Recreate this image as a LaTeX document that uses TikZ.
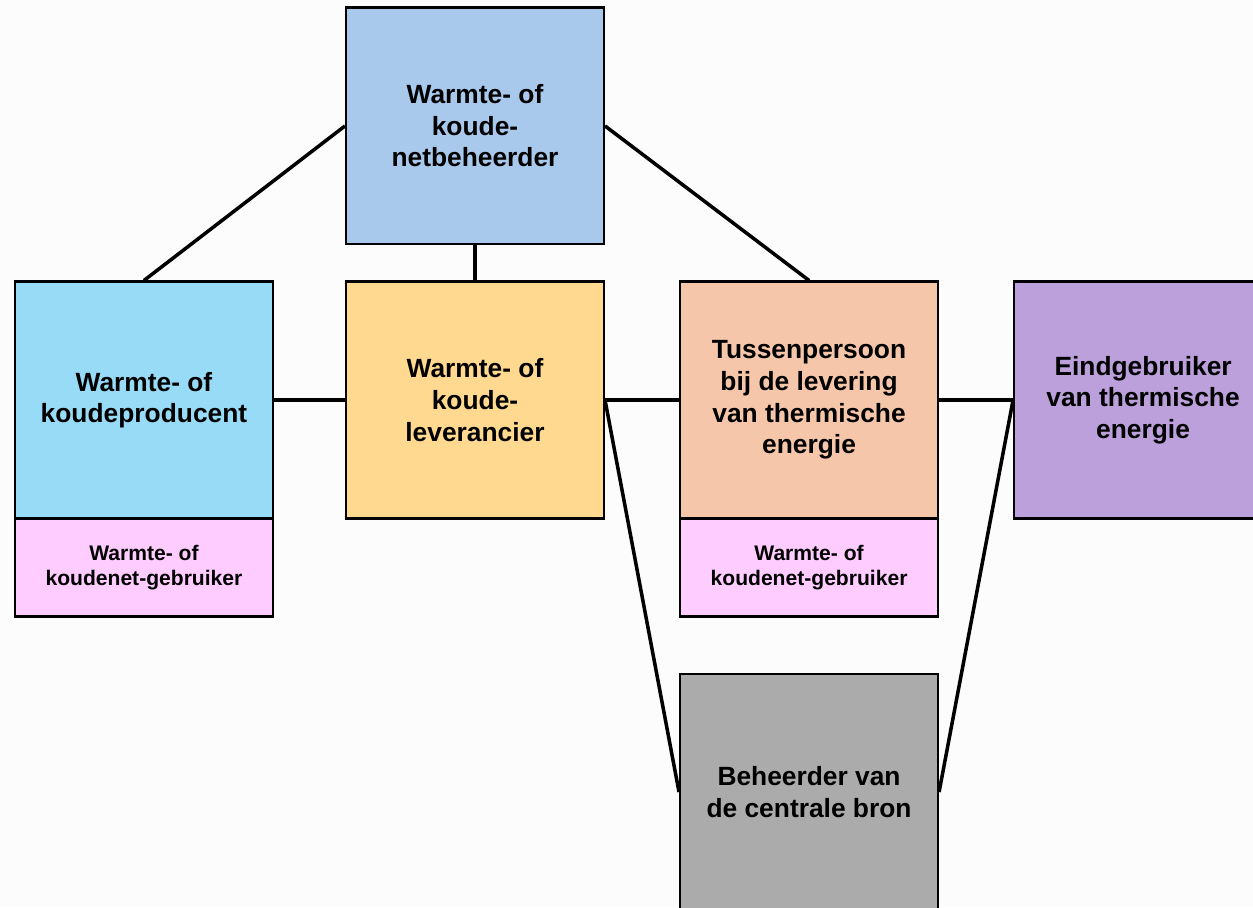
\documentclass[tikz,border=0pt]{standalone}
\usepackage{fontspec}
\setmainfont{Liberation Sans}
\usetikzlibrary{positioning}
\definecolor{pagebg}{HTML}{FCFCFC}
\definecolor{netblue}{HTML}{A9C9EC}
\definecolor{prodcyan}{HTML}{97DBF7}
\definecolor{levorange}{HTML}{FFD98F}
\definecolor{tussenpeach}{HTML}{F5C6A9}
\definecolor{userpink}{HTML}{FFCCFF}
\definecolor{eindlila}{HTML}{BCA0DB}
\definecolor{brongray}{HTML}{ABABAB}

\begin{document}
\begin{tikzpicture}[
    x=0.02cm, y=-0.02cm,
    node distance=1.5cm and 1.5cm,
    role/.style={rectangle, draw, line width=1.2pt, align=center, inner sep=0pt,
      font=\bfseries\fontsize{15}{18}\selectfont, minimum width=5.16cm, minimum height=4.74cm},
    netuser/.style={rectangle, draw, line width=1.2pt, fill=userpink, align=center, inner sep=0pt,
      font=\bfseries\fontsize{12}{14}\selectfont, minimum width=5.16cm, minimum height=1.96cm},
    link/.style={line width=2pt}
  ]

    \useasboundingbox (0,0) rectangle (1253,907);
    \clip (0,0) rectangle (1253,907);
    \fill[pagebg] (0,0) rectangle (1253,907);

    \node[role, fill=levorange] (lev) at (475,400) {Warmte- of\\koude-\\leverancier};
    \node[role, fill=netblue, above=0.7cm of lev] (net) {Warmte- of\\koude-\\netbeheerder};
    \node[role, fill=prodcyan, left=1.42cm of lev] (prod) {Warmte- of\\koudeproducent};
    \node[role, fill=tussenpeach, right=1.48cm of lev] (tussen) {Tussenpersoon\\bij de levering\\van thermische\\energie};
    \node[role, fill=eindlila, right=1.48cm of tussen] (eind) {Eindgebruiker\\van thermische\\energie};

    \node[netuser, below=-1.2pt of prod] (produser) {Warmte- of\\koudenet-gebruiker};
    \node[netuser, below=-1.2pt of tussen] (tussenuser) {Warmte- of\\koudenet-gebruiker};

    \node[role, fill=brongray, below=1.1cm of tussenuser] (bron) {Beheerder van\\de centrale bron};

    % connections
    \draw[link] (net.west) -- (prod.north);
    \draw[link] (net.south) -- (lev.north);
    \draw[link] (net.east) -- (tussen.north);

    \draw[link] (prod.east) -- (lev.west);
    \draw[link] (lev.east) -- (tussen.west);
    \draw[link] (tussen.east) -- (eind.west);

    \draw[link] (lev.east) -- (bron.west);
    \draw[link] (eind.west) -- (bron.east);

  \end{tikzpicture}
\end{document}
